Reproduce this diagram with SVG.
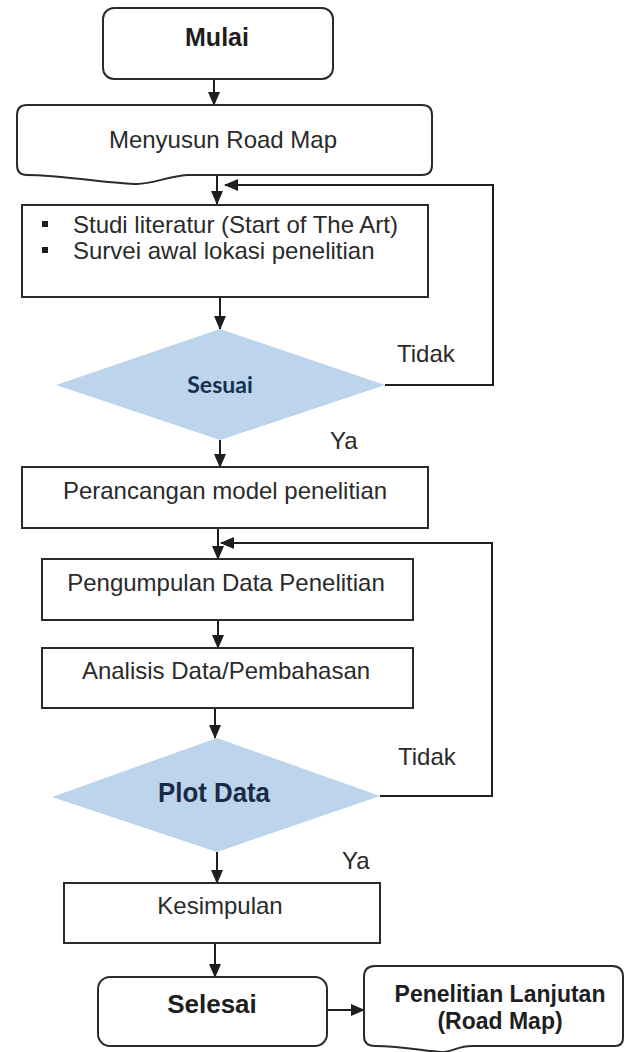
<svg xmlns="http://www.w3.org/2000/svg" width="625" height="1052" viewBox="0 0 625 1052">
<defs>
<style>
.box{fill:#fff;stroke:#2a2a2a;stroke-width:2}
.dia{fill:#bcd4ec;stroke:none}
.t{font-family:"Liberation Sans",Arial,sans-serif;font-size:24px;fill:#2a2a2a}
.tb{font-family:"Liberation Sans",Arial,sans-serif;font-weight:bold;fill:#1e1e1e}
.dt{font-family:Lato,"Liberation Sans",sans-serif;font-weight:bold;fill:#17304f}
.c{fill:none;stroke:#1e1e1e;stroke-width:2}
</style>
<marker id="ah" markerUnits="userSpaceOnUse" markerWidth="14" markerHeight="12" refX="13" refY="6" orient="auto">
<path d="M0,0 L14,6 L0,12 z" fill="#1e1e1e"/>
</marker>
</defs>
<rect width="625" height="1052" fill="#fff"/>

<g id="connectors">
<line class="c" x1="214" y1="79" x2="214" y2="105" marker-end="url(#ah)"/>
<line class="c" x1="217" y1="176" x2="217" y2="204" marker-end="url(#ah)"/>
<path class="c" d="M385,385 H493 V185 H225" marker-end="url(#ah)"/>
<line class="c" x1="220" y1="297" x2="220" y2="329" marker-end="url(#ah)"/>
<line class="c" x1="220" y1="440" x2="220" y2="467" marker-end="url(#ah)"/>
<line class="c" x1="218" y1="528" x2="218" y2="559" marker-end="url(#ah)"/>
<path class="c" d="M380,796 H492 V543 H221" marker-end="url(#ah)"/>
<line class="c" x1="218" y1="620" x2="218" y2="648" marker-end="url(#ah)"/>
<line class="c" x1="215" y1="708" x2="215" y2="738" marker-end="url(#ah)"/>
<line class="c" x1="217" y1="852" x2="217" y2="883" marker-end="url(#ah)"/>
<line class="c" x1="215" y1="943" x2="215" y2="977" marker-end="url(#ah)"/>
<line class="c" x1="327" y1="1010" x2="364" y2="1010" marker-end="url(#ah)"/>
</g>

<g id="mulai">
<rect class="box" x="103" y="8" width="230" height="71" rx="11"/>
<text class="tb" x="217" y="46" font-size="25" text-anchor="middle">Mulai</text>
</g>

<g id="roadmap">
<path class="box" d="M17,115 Q17,105 27,105 H422 Q432,105 432,115 V165 Q432,175 422,175 H187 C170,176 152,184 137,184 C115,184 60,175 27,175 Q17,175 17,165 Z"/>
<text class="t" x="223" y="148" font-size="23" text-anchor="middle">Menyusun Road Map</text>
</g>

<g id="studi">
<rect class="box" x="22" y="205" width="406" height="92"/>
<rect x="42" y="221" width="6" height="6" fill="#1e1e1e"/>
<rect x="42" y="247" width="6" height="6" fill="#1e1e1e"/>
<text class="t" x="73" y="233">Studi literatur (Start of The Art)</text>
<text class="t" x="73" y="259">Survei awal lokasi penelitian</text>
</g>

<g id="sesuai">
<polygon class="dia" points="220,329 385,385 220,440 56,385"/>
<text class="dt" x="220" y="393" font-size="23" text-anchor="middle">Sesuai</text>
</g>

<g id="label-tidak-1"><text class="t" x="397" y="362">Tidak</text></g>
<g id="label-ya-1"><text class="t" x="330" y="449">Ya</text></g>

<g id="perancangan">
<rect class="box" x="22" y="467" width="406" height="61"/>
<text class="t" x="225" y="499" text-anchor="middle">Perancangan model penelitian</text>
</g>

<g id="pengumpulan">
<rect class="box" x="42" y="559" width="371" height="61"/>
<text class="t" x="226" y="591" text-anchor="middle">Pengumpulan Data Penelitian</text>
</g>

<g id="analisis">
<rect class="box" x="42" y="648" width="371" height="60"/>
<text class="t" x="226" y="679" text-anchor="middle">Analisis Data/Pembahasan</text>
</g>

<g id="plotdata">
<polygon class="dia" points="217,738 380,796 217,852 52,797"/>
<text class="tb" x="214" y="802" font-size="27" text-anchor="middle" style="fill:#1a2a44" textLength="112" lengthAdjust="spacingAndGlyphs">Plot Data</text>
</g>

<g id="label-tidak-2"><text class="t" x="398" y="765">Tidak</text></g>
<g id="label-ya-2"><text class="t" x="342" y="869">Ya</text></g>

<g id="kesimpulan">
<rect class="box" x="64" y="883" width="316" height="60"/>
<text class="t" x="220" y="914" text-anchor="middle">Kesimpulan</text>
</g>

<g id="selesai">
<rect class="box" x="98" y="977" width="229" height="69" rx="12"/>
<text class="tb" x="212" y="1013" font-size="26" text-anchor="middle">Selesai</text>
</g>

<g id="lanjutan">
<path class="box" d="M364,977 Q364,966 375,966 H612 Q623,966 623,977 V1038 Q623,1046 615,1046 H472 C458,1046 452,1052 442,1052 C428,1052 405,1046 375,1046 Q364,1046 364,1036 Z"/>
<text class="tb" x="500" y="1002" font-size="23" text-anchor="middle">Penelitian Lanjutan</text>
<text class="tb" x="500" y="1029" font-size="23" text-anchor="middle">(Road Map)</text>
</g>
</svg>
